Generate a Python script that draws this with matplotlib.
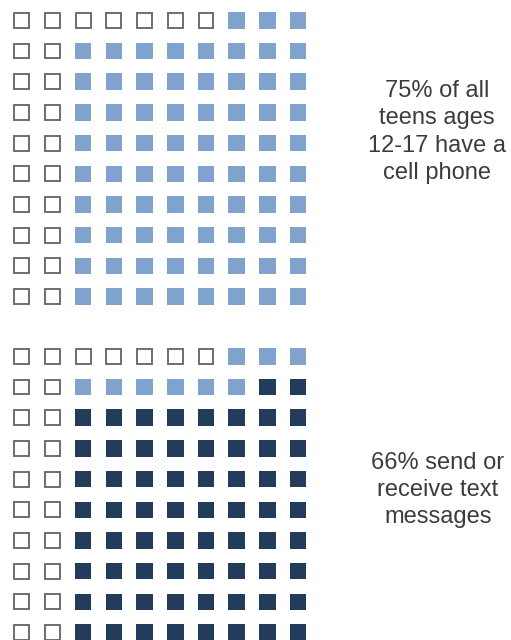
import numpy as np
from matplotlib import pyplot as plt
from matplotlib.patches import Rectangle

plt.rcParams['font.family'] = ['Liberation Sans', 'DejaVu Sans']

# share of teens (out of 100 squares)
cell_phone = 75
send_text = 66
labels = ["75% of all\nteens ages\n12-17 have a\ncell phone",
          "66% send or\nreceive text\nmessages"]

light = '#7fa3cd'
dark = '#243c5c'
edge = '#6e6e6e'

# fill order: bottom row first, right to left, columns 2..9
order = [(r, c) for r in range(9, -1, -1) for c in range(9, 1, -1)]

def draw_grid(ax, y0, n_light, n_dark):
    colors = {}
    for k, rc in enumerate(order):
        if k < n_dark:
            colors[rc] = dark
        elif k < n_light:
            colors[rc] = light
    pitch = 30.7
    size = 16.5
    for r in range(10):
        for c in range(10):
            x = 13.5 + c * pitch
            y = y0 + r * pitch
            col = colors.get((r, c))
            if col is None:
                ax.add_patch(Rectangle((x + 0.8, y + 0.8), size - 1.6, size - 1.6,
                                       facecolor='white', edgecolor=edge, linewidth=1.4))
            else:
                ax.add_patch(Rectangle((x, y), size, size, facecolor=col,
                                       edgecolor='none'))

fig = plt.figure(figsize=(5.11, 6.4), dpi=100)
ax = fig.add_axes([0, 0, 1, 1])
ax.set_xlim(0, 511)
ax.set_ylim(640, 0)
ax.axis('off')

draw_grid(ax, 12, cell_phone, 0)
draw_grid(ax, 348, cell_phone, send_text)

ax.text(437, 132, labels[0], ha='center', va='center', fontsize=17,
        color='#3c3c3c', linespacing=1.32)
ax.text(438, 490, labels[1], ha='center', va='center', fontsize=17,
        color='#3c3c3c', linespacing=1.32)

fig.savefig('out.png', dpi=100)
